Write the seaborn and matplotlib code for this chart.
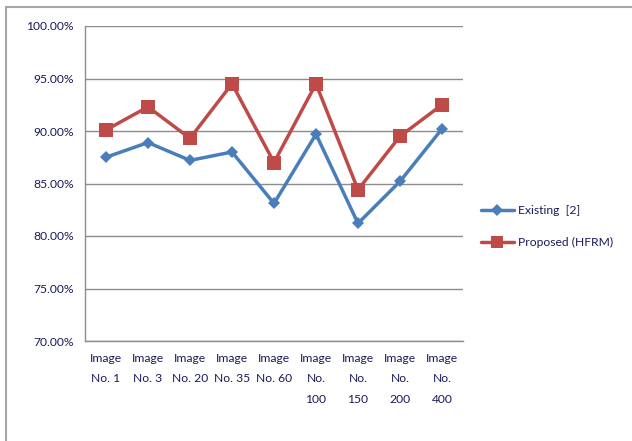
import matplotlib
matplotlib.use("Agg")
import matplotlib.pyplot as plt
from matplotlib.patches import Rectangle
from matplotlib.ticker import FuncFormatter, MultipleLocator
import seaborn as sns
import pandas as pd
import numpy as np

categories = ["Image\nNo. 1", "Image\nNo. 3", "Image\nNo. 20", "Image\nNo. 35",
              "Image\nNo. 60", "Image\nNo.\n100", "Image\nNo.\n150", "Image\nNo.\n200",
              "Image\nNo.\n400"]
existing = [87.5, 88.9, 87.2, 88.0, 83.1, 89.7, 81.2, 85.2, 90.2]
proposed = [90.1, 92.3, 89.3, 94.5, 87.0, 94.5, 84.4, 89.5, 92.5]
series_names = ["Existing  [2]", "Proposed (HFRM)"]

sns.set_theme(style="white")
plt.rcParams["font.family"] = ["Lato", "DejaVu Sans"]

df = pd.DataFrame({
    "pos": list(range(len(categories))) * 2,
    "value": existing + proposed,
    "series": [series_names[0]] * len(existing) + [series_names[1]] * len(proposed),
})

fig = plt.figure(figsize=(6.32, 4.41), dpi=100)
ax = fig.add_axes([85 / 632, 1 - 341 / 441, 378 / 632, 315 / 441])

palette = {series_names[0]: "#4A7EBB", series_names[1]: "#BE4B48"}
markers = {series_names[0]: "D", series_names[1]: "s"}
sns.lineplot(data=df, x="pos", y="value", hue="series", style="series",
             palette=palette, markers=markers, dashes=False, linewidth=2.5,
             markeredgewidth=0, ax=ax, legend=False)
# marker sizes per series
for line, ms in zip(ax.get_lines(), [6.5, 9.5]):
    line.set_markersize(ms)

ax.set_xlim(-0.5, len(categories) - 0.5)
ax.set_ylim(70, 100)
ax.yaxis.set_major_locator(MultipleLocator(5))
ax.yaxis.set_major_formatter(FuncFormatter(lambda v, p: f"{v:.2f}%"))
ax.grid(axis="y", color="#8c8c8c", linewidth=1.0)
ax.set_axisbelow(True)

ax.set_xticks(range(len(categories)))
ax.set_xticklabels(categories, fontsize=8.7, color="#1a1a5a", linespacing=2.05,
                   va="top")
ax.set_xticks(np.arange(-0.5, len(categories), 1.0), minor=True)
ax.tick_params(axis="x", which="major", length=0, pad=8.5)
ax.tick_params(axis="x", which="minor", length=5, width=1, color="#8c8c8c",
               direction="out")
ax.tick_params(axis="y", length=5, width=1, color="#8c8c8c", direction="out",
               labelsize=8.7, labelcolor="#1a1a5a", pad=3)
ax.set_xlabel("")
ax.set_ylabel("")

for side in ["top", "right"]:
    ax.spines[side].set_visible(False)
for side in ["left", "bottom"]:
    ax.spines[side].set_color("#8c8c8c")
    ax.spines[side].set_linewidth(1.0)

# legend
handles = [
    plt.Line2D([], [], color="#4A7EBB", lw=2.5, marker="D", ms=6.5, mew=0),
    plt.Line2D([], [], color="#BE4B48", lw=2.5, marker="s", ms=9, mew=0),
]
fig.legend(handles, series_names, loc="upper left",
           bbox_to_anchor=(470 / 632, 1 - 194 / 441), frameon=False,
           fontsize=8.7, handlelength=2.7, handletextpad=0.35,
           labelspacing=1.75, labelcolor="#1a1a5a")

# chart frame
fig.patches.append(Rectangle((6 / 632, -0.05), 1.0, 1 - 7 / 441 + 0.05,
                             transform=fig.transFigure, fill=False,
                             edgecolor="#a6a6a6", linewidth=1.5))

fig.savefig("out.png", dpi=100)
